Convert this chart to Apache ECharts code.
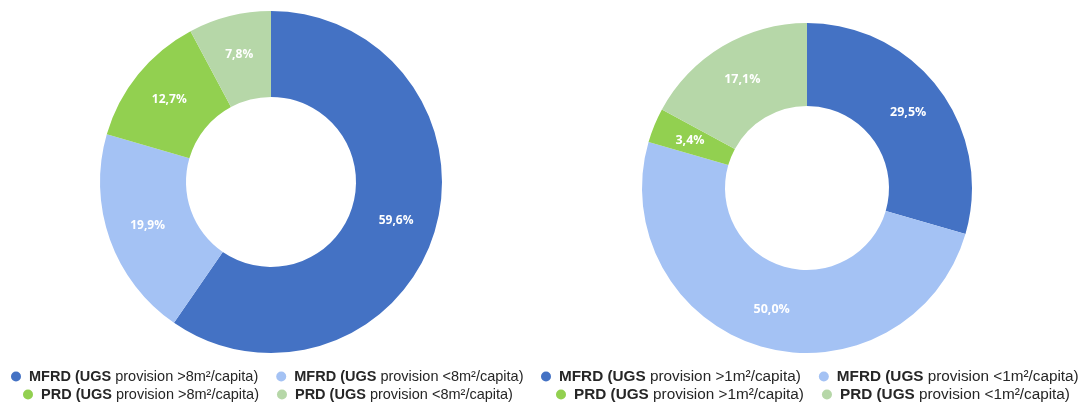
<!DOCTYPE html>
<html>
<head>
<meta charset="utf-8">
<script src="https://cdn.jsdelivr.net/npm/echarts@6/dist/echarts.min.js"></script>
<style>
  html, body { margin: 0; padding: 0; background: #fff; }
  #chart { width: 1090px; height: 403px; }
</style>
</head>
<body>
<div id="chart"></div>
<script>
// data
var leftNames = [
  'MFRD (UGS provision >8m²/capita)',
  'MFRD (UGS provision <8m²/capita)',
  'PRD (UGS provision >8m²/capita)',
  'PRD (UGS provision <8m²/capita)'
];
var leftValues = [59.6, 19.9, 12.7, 7.8];

var rightNames = [
  'MFRD (UGS provision >1m²/capita)',
  'MFRD (UGS provision <1m²/capita)',
  'PRD (UGS provision >1m²/capita)',
  'PRD (UGS provision <1m²/capita)'
];
var rightValues = [29.5, 50.0, 3.4, 17.1];

var colors = ['#4472C4', '#A4C2F4', '#92D050', '#B6D7A8'];

var myChart = echarts.init(document.getElementById('chart'), null, { renderer: 'canvas' });

function toData(names, values) {
  return names.map(function (n, i) {
    return { name: n, value: values[i], itemStyle: { color: colors[i] } };
  });
}

// bold the "MFRD (UGS" / "PRD (UGS" part of each legend entry
function legendFmt(name) {
  var k = name.indexOf(' provision');
  return '{b|' + name.slice(0, k) + '}{n|' + name.slice(k) + '}';
}

function makeLegend(names, left, top, fs) {
  return {
    left: left,
    top: top,
    padding: 0,
    orient: 'horizontal',
    icon: 'circle',
    itemWidth: 10,
    itemHeight: 10,
    itemGap: 18,
    selectedMode: false,
    data: names,
    formatter: legendFmt,
    textStyle: {
      rich: {
        b: { fontFamily: 'Liberation Sans', fontSize: fs, lineHeight: 16, fontWeight: 'bold', color: '#262626', padding: [0, 0, 0, 3] },
        n: { fontFamily: 'Liberation Sans', fontSize: fs, lineHeight: 16, color: '#262626' }
      }
    }
  };
}

function labelStyle(fs) {
  return {
    show: true,
    position: 'inside',
    color: '#fff',
    fontFamily: 'Open Sans',
    fontWeight: 'bold',
    fontSize: fs,
    formatter: function (p) {
      return p.value.toFixed(1).replace('.', ',') + '%';
    }
  };
}

var option = {
  animation: false,
  legend: [
    makeLegend(leftNames.slice(0, 2), 11, 369, 14.5),
    makeLegend(leftNames.slice(2, 4), 23, 387, 14.5),
    makeLegend(rightNames.slice(0, 2), 541, 369, 15.3),
    makeLegend(rightNames.slice(2, 4), 556, 387, 15.3)
  ],
  series: [
    {
      name: 'left',
      type: 'pie',
      center: [271, 182],
      radius: [85, 171],
      startAngle: 90,
      clockwise: true,
      label: labelStyle(12),
      labelLine: { show: false },
      emphasis: { disabled: true },
      data: toData(leftNames, leftValues)
    },
    {
      name: 'right',
      type: 'pie',
      center: [807, 188],
      radius: [82, 165],
      startAngle: 90,
      clockwise: true,
      label: labelStyle(12.5),
      labelLine: { show: false },
      emphasis: { disabled: true },
      data: toData(rightNames, rightValues)
    }
  ]
};

myChart.setOption(option);
</script>
</body>
</html>
